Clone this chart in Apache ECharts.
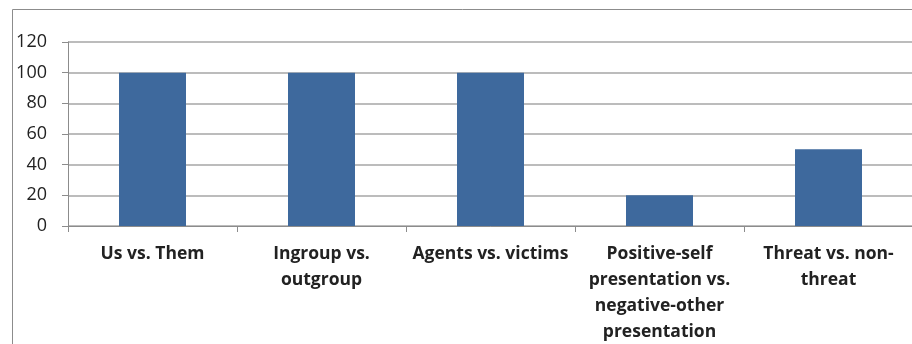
<!DOCTYPE html>
<html><head><meta charset="utf-8">
<script src="https://cdn.jsdelivr.net/npm/echarts@6/dist/echarts.min.js"></script>
<style>html,body{margin:0;padding:0;background:#fff}#c{width:912px;height:344px}</style>
</head><body><div id="c"></div>
<script>
const categories = ["Us vs. Them", "Ingroup vs.\noutgroup", "Agents vs. victims", "Positive-self\npresentation vs.\nnegative-other\npresentation", "Threat vs. non-\nthreat"];
const values = [100, 100, 100, 20, 50];
const yTicks = [0, 20, 40, 60, 80, 100, 120];

const chart = echarts.init(document.getElementById('c'), null, {renderer: 'canvas'});
chart.setOption({
  animation: false,
  graphic: [{
    type: 'rect', left: 10, top: 7, silent: true,
    shape: {x: 0, y: 0, width: 920, height: 360},
    style: {fill: 'none', stroke: '#8c8c8c', lineWidth: 1}
  }],
  grid: {left: 68, top: 42, width: 845, height: 184, containLabel: false, outerBoundsMode: 'none'},
  xAxis: {
    type: 'category', data: categories,
    axisLine: {show: true, lineStyle: {color: '#8c8c8c', width: 1}},
    axisTick: {show: true, length: 6, alignWithLabel: false, lineStyle: {color: '#8c8c8c'}},
    axisLabel: {interval: 0, margin: 15, color: '#222', fontFamily: 'Open Sans', fontWeight: 'bold', fontSize: 17.5, lineHeight: 26}
  },
  yAxis: {
    type: 'value', min: yTicks[0], max: yTicks[yTicks.length-1], interval: 20,
    axisLine: {show: true, lineStyle: {color: '#8c8c8c', width: 1}},
    axisTick: {show: true, length: 6, lineStyle: {color: '#8c8c8c'}},
    splitLine: {show: true, lineStyle: {color: '#a6a6a6', width: 1.5}},
    axisLabel: {margin: 21, color: '#222', fontFamily: 'Open Sans', fontSize: 18}
  },
  series: [{
    type: 'bar', data: values, barWidth: 67,
    itemStyle: {color: '#3e699d'}
  }]
});
</script></body></html>
